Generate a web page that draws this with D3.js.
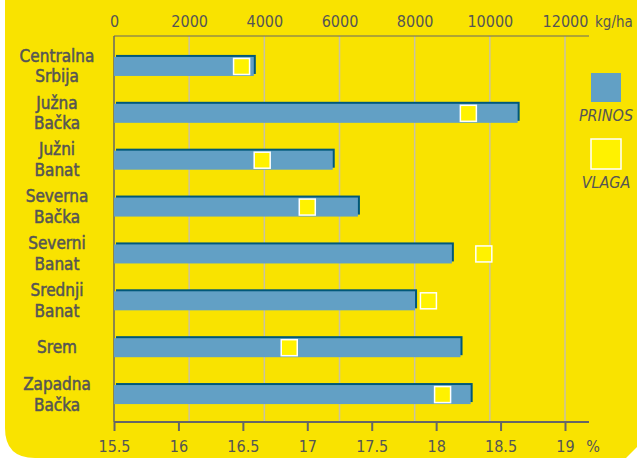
<!DOCTYPE html>
<html><head><meta charset="utf-8">
<script src="https://cdn.jsdelivr.net/npm/d3@7"></script>
<style>
html,body{margin:0;padding:0;background:#fff;}
svg{display:block;}
</style></head>
<body>
<svg id="c" width="637" height="458"></svg>
<script>
const categories = [["Centralna","Srbija"],["Južna","Bačka"],["Južni","Banat"],["Severna","Bačka"],["Severni","Banat"],["Srednji","Banat"],["Srem"],["Zapadna","Bačka"]];
const prinos = [3720, 10740, 5820, 6490, 8990, 8010, 9220, 9490];
const vlaga = [16.49, 18.25, 16.65, 17.0, 18.37, 17.94, 16.86, 18.05];
const topTicks = [0, 2000, 4000, 6000, 8000, 10000, 12000];
const bottomTicks = [15.5, 16, 16.5, 17, 17.5, 18, 18.5, 19];
const legendLabels = ["PRINOS", "VLAGA"];

const YEL = "#F9E300", SQ = "#FFF200", BLUE = "#62A0C5", DARK = "#00587A", GRID = "#C9C2A2", AX = "#666", TXT = "#555";
const FONT = "'DejaVu Sans Condensed',sans-serif";

const svg = d3.select("#c");
svg.append("path")
  .attr("d", "M5,0 H637 V447 L626,458 H35 Q5,458 5,428 Z")
  .attr("fill", YEL);

const x = d3.scaleLinear().domain([0, 12000]).range([114, 565]);
const x2 = d3.scaleLinear().domain([15.5, 19]).range([114, 565]);
const keys = categories.map(c => c.join(" "));
const y = d3.scaleBand().domain(keys).range([43, 418]).paddingInner(0.594).paddingOuter(0.297);

// grid
svg.append("g").selectAll("line").data(topTicks.slice(1)).join("line")
  .attr("x1", d => x(d)).attr("x2", d => x(d)).attr("y1", 36).attr("y2", 422)
  .attr("stroke", GRID).attr("stroke-width", 1.5);

// top axis
const gt = svg.append("g").attr("transform", "translate(0,36)")
  .call(d3.axisTop(x).tickValues(topTicks).tickSize(0).tickPadding(9).tickFormat(d3.format("d")));
gt.select(".domain").attr("stroke", AX).attr("stroke-width", 1.2).attr("d", "M114,0H589");
gt.selectAll("text").attr("fill", TXT).attr("font-family", FONT).attr("font-size", 16);
svg.append("text").attr("x", 595).attr("y", 27).text("kg/ha")
  .attr("fill", TXT).attr("font-family", FONT).attr("font-size", 15);

// bottom axis
const gb = svg.append("g").attr("transform", "translate(0,422)")
  .call(d3.axisBottom(x2).tickValues(bottomTicks).tickSize(9).tickPadding(10).tickFormat(d => String(d)));
gb.select(".domain").attr("stroke", AX).attr("stroke-width", 2).attr("d", "M114,0H589");
gb.selectAll(".tick line").attr("stroke", AX).attr("stroke-width", 2);
gb.selectAll("text").attr("fill", TXT).attr("font-family", FONT).attr("font-size", 16);
svg.append("text").attr("x", 593).attr("y", 452).attr("text-anchor", "middle").text("%")
  .attr("fill", TXT).attr("font-family", FONT).attr("font-size", 16);

// left axis line
svg.append("line").attr("x1", 114).attr("x2", 114).attr("y1", 36).attr("y2", 422)
  .attr("stroke", AX).attr("stroke-width", 1.5);

// bars
const bars = svg.append("g");
bars.selectAll("rect.sh").data(prinos).join("rect").attr("class", "sh")
  .attr("x", 116).attr("y", (d, i) => y(keys[i]) - 2)
  .attr("width", d => x(d) - 114).attr("height", y.bandwidth())
  .attr("fill", DARK);
bars.selectAll("rect.b").data(prinos).join("rect").attr("class", "b")
  .attr("x", 114).attr("y", (d, i) => y(keys[i]))
  .attr("width", d => x(d) - 114).attr("height", y.bandwidth())
  .attr("fill", BLUE);

// vlaga squares
const s = 16;
svg.append("g").selectAll("rect").data(vlaga).join("rect")
  .attr("x", d => x2(d) - s / 2).attr("y", (d, i) => y(keys[i]) + y.bandwidth() / 2 - s / 2)
  .attr("width", s).attr("height", s)
  .attr("fill", SQ).attr("stroke", "#fff").attr("stroke-width", 1.5);

// category labels
const lab = svg.append("g");
categories.forEach((c, i) => {
  const cy = y(keys[i]) + y.bandwidth() / 2;
  const t = lab.append("text").attr("text-anchor", "middle").attr("fill", TXT)
    .attr("stroke", TXT).attr("stroke-width", 0.5)
    .attr("font-family", FONT).attr("font-size", 17);
  c.forEach((line, j) => {
    const off = (j - (c.length - 1) / 2) * 20.8;
    t.append("tspan").attr("x", 57).attr("y", cy + off + 5.6).text(line);
  });
});

// legend
svg.append("rect").attr("x", 591).attr("y", 73).attr("width", 30).attr("height", 29).attr("fill", BLUE);
svg.append("rect").attr("x", 591).attr("y", 139).attr("width", 30).attr("height", 30)
  .attr("fill", SQ).attr("stroke", "#fff").attr("stroke-width", 1.5);
svg.selectAll("text.leg").data(legendLabels).join("text").attr("class", "leg")
  .attr("x", 606).attr("y", (d, i) => [121, 188][i]).attr("text-anchor", "middle")
  .attr("fill", TXT).attr("font-family", FONT).attr("font-size", 16).attr("font-style", "italic")
  .text(d => d);
</script>
</body></html>
